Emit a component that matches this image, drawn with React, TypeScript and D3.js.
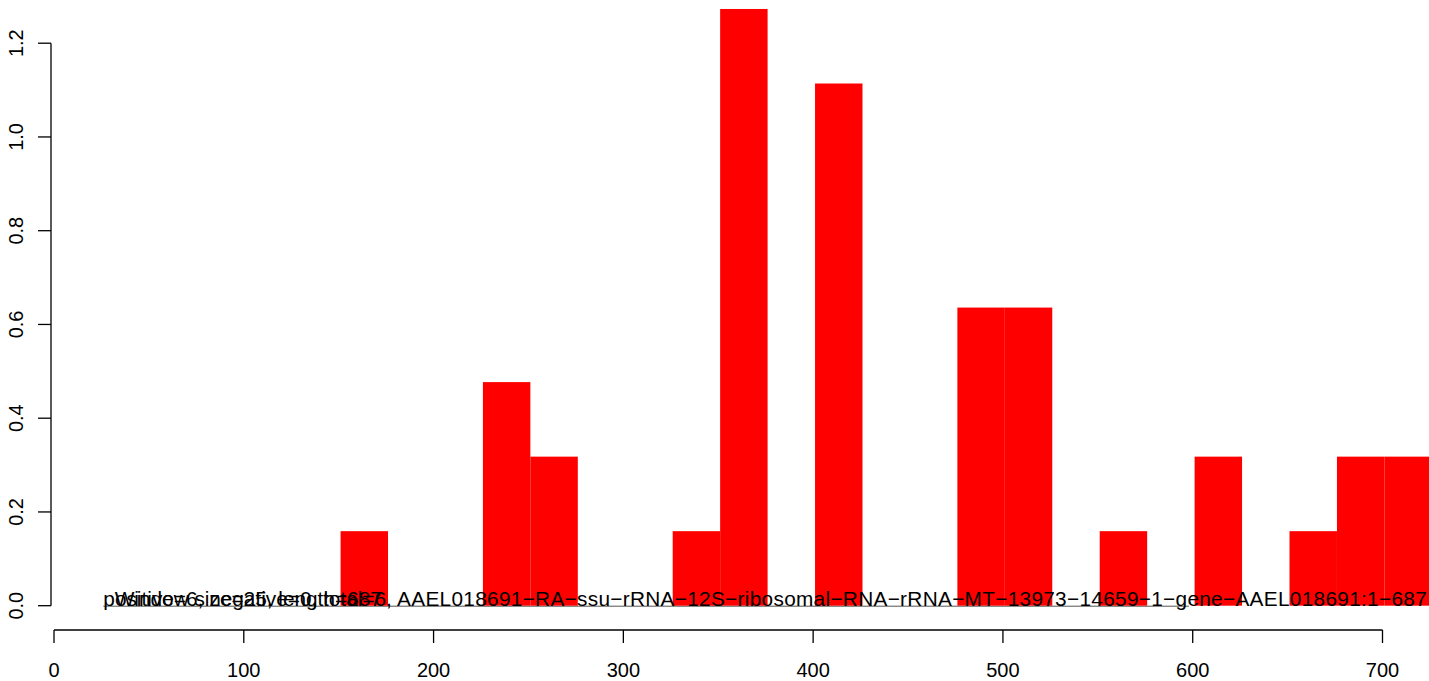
import React from "react";
import * as d3 from "d3";

const windowStarts = [151, 226, 251, 326, 351, 401, 476, 501, 551, 601, 651, 676, 701];
const windowValues = [0.159, 0.477, 0.318, 0.159, 1.273, 1.114, 0.636, 0.636, 0.159, 0.318, 0.159, 0.318, 0.318];
const windowSize = 25;
const xTicks = [0, 100, 200, 300, 400, 500, 600, 700];
const yTicks = [0, 0.2, 0.4, 0.6, 0.8, 1.0, 1.2];
const labelCountsHead = "positive=6, negative=0, total=6";
const labelCountsTail = ", AAEL018691\u2212RA\u2212ssu\u2212rRNA\u221212S\u2212ribosomal\u2212RNA\u2212rRNA\u2212MT\u221213973\u221214659\u22121\u2212gene\u2212AAEL018691:1\u2212687";
const labelWindow = "Window size=25, length=687";
const geneSpan = [26, 598];

const W = 1429;
const H = 681;

export default function App() {
  const x = d3.scaleLinear().domain([0, 700]).range([54, 1382.5]);
  const y = d3.scaleLinear().domain([0, 1.2]).range([605.7, 43.2]);
  const font = "'Liberation Sans', Arial, Helvetica, sans-serif";
  const axisX = 51;
  const axisY = 630;
  const tick = 13;
  return (
    <svg
      width={W}
      height={H}
      style={{ position: "fixed", left: 0, top: 0, background: "#fff" }}
      fontFamily={font}
    >
      <defs>
        <clipPath id="plotclip">
          <rect x={axisX} y={0} width={W - axisX} height={H} />
        </clipPath>
      </defs>
      <line
        x1={x(geneSpan[0])}
        x2={x(geneSpan[1])}
        y1={y(0) + 0.5}
        y2={y(0) + 0.5}
        stroke="#555"
        strokeWidth={1}
      />
      <g clipPath="url(#plotclip)">
        {windowStarts.map((s, i) => (
          <rect
            key={i}
            x={x(s)}
            width={x(s + windowSize) - x(s)}
            y={y(windowValues[i])}
            height={y(0) - y(windowValues[i])}
            fill="#ff0000"
          />
        ))}
      </g>
      <text x={x(26)} y={y(0)} fontSize={20.8} fill="#000">
        <tspan>{labelCountsHead}</tspan>
        <tspan letterSpacing={0.3}>{labelCountsTail}</tspan>
      </text>
      <text x={x(32)} y={y(0)} fontSize={20.8} fill="#000">{labelWindow}</text>
      {/* y axis */}
      <line x1={axisX} x2={axisX} y1={y(0)} y2={y(1.2)} stroke="#000" strokeWidth={1.3} />
      {yTicks.map((t) => (
        <g key={t}>
          <line x1={axisX - tick} x2={axisX} y1={y(t)} y2={y(t)} stroke="#000" strokeWidth={1.3} />
          <text
            transform={`translate(23,${y(t)}) rotate(-90)`}
            textAnchor="middle"
            fontSize={20}
            fill="#000"
          >
            {t.toFixed(1)}
          </text>
        </g>
      ))}
      {/* x axis */}
      <line x1={x(0)} x2={x(700)} y1={axisY} y2={axisY} stroke="#000" strokeWidth={1.3} />
      {xTicks.map((t) => (
        <g key={t}>
          <line x1={x(t)} x2={x(t)} y1={axisY} y2={axisY + tick} stroke="#000" strokeWidth={1.3} />
          <text x={x(t)} y={677} textAnchor="middle" fontSize={20} fill="#000">
            {t}
          </text>
        </g>
      ))}
    </svg>
  );
}
